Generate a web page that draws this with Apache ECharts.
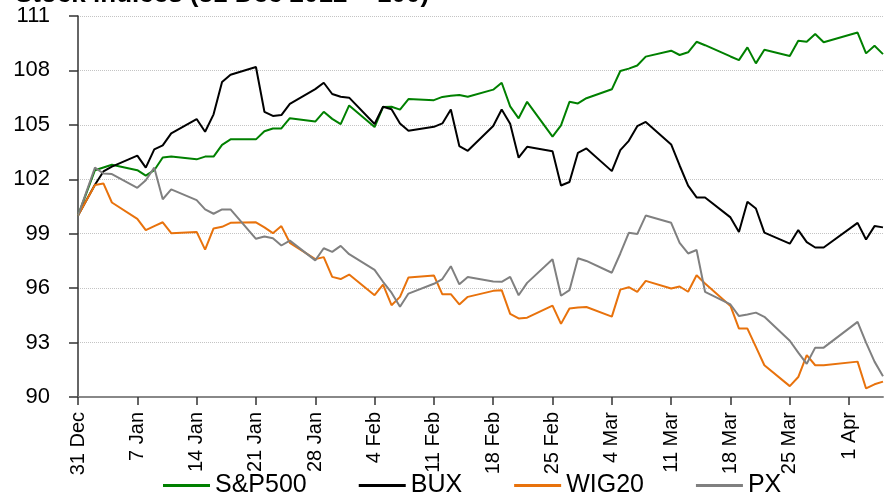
<!DOCTYPE html>
<html lang="en">
<head>
    <meta charset="UTF-8">
    <title>Stock indices</title>
    <style>
        html, body { margin: 0; padding: 0; background: #fff; }
        .box { width: 895px; height: 497px; }
    </style>
</head>
<body>
    <div class="box"></div>
    <script src="https://cdn.jsdelivr.net/npm/echarts@6/dist/echarts.min.js"></script>
    <script>
        // days since 31 Dec 2012 (trading days)
        var days = [0, 2, 3, 4, 7, 8, 9, 10, 11, 14, 15, 16, 17, 18, 21, 22, 23, 24, 25,
            28, 29, 30, 31, 32, 35, 36, 37, 38, 39, 42, 43, 44, 45, 46, 49, 50, 51, 52, 53,
            56, 57, 58, 59, 60, 63, 64, 65, 66, 67, 70, 71, 72, 73, 74, 77, 78, 79, 80, 81,
            84, 85, 86, 87, 88, 92, 93, 94, 95];
        var tickLabels = ['31 Dec', '7 Jan', '14 Jan', '21 Jan', '28 Jan', '4 Feb', '11 Feb',
            '18 Feb', '25 Feb', '4 Mar', '11 Mar', '18 Mar', '25 Mar', '1 Apr'];
        var seriesNames = ['S&P500', 'BUX', 'WIG20', 'PX'];

        var spx = [100, 102.5, 102.65, 102.8,
            102.5, 102.2, 102.5, 103.2, 103.25,
            103.1, 103.25, 103.25, 103.9, 104.2,
            104.2, 104.65, 104.8, 104.8, 105.37,
            105.18, 105.72, 105.33, 105.04, 106.07,
            104.88, 105.98, 106.0, 105.84, 106.42,
            106.36, 106.54, 106.6, 106.65, 106.55,
            106.94, 107.32, 106.02, 105.36, 106.27,
            104.35, 104.97, 106.27, 106.18, 106.47,
            106.96, 107.97, 108.1, 108.27, 108.76,
            109.09, 108.85, 109.0, 109.58, 109.39,
            108.77, 108.57, 109.27, 108.39, 109.14,
            108.8, 109.64, 109.58, 110.01, 109.55,
            110.09, 108.94, 109.36, 108.9];
        var bux = [100, 101.7, 102.43, 102.7,
            103.3, 102.64, 103.65, 103.87, 104.53,
            105.32, 104.62, 105.58, 107.36, 107.76,
            108.19, 105.72, 105.49, 105.54, 106.16,
            106.97, 107.32, 106.7, 106.55, 106.5,
            105.05, 106.0, 105.86, 105.08, 104.68,
            104.89, 105.08, 105.85, 103.83, 103.57,
            104.94, 105.85, 105.06, 103.19, 103.79,
            103.55, 101.66, 101.85, 103.46, 103.7,
            102.45, 103.61, 104.12, 104.93, 105.16,
            103.92, 102.76, 101.65, 101.0, 101.0,
            99.9, 99.1, 100.76, 100.39, 99.06,
            98.45, 99.2, 98.54, 98.24, 98.24,
            99.6, 98.68, 99.42, 99.35];
        var wig20 = [100, 101.68, 101.77, 100.72,
            99.82, 99.2, 99.42, 99.63, 99.03,
            99.1, 98.12, 99.29, 99.38, 99.6,
            99.63, 99.35, 99.03, 99.42, 98.5,
            97.6, 97.71, 96.62, 96.5, 96.75,
            95.61, 96.19, 95.06, 95.52, 96.59,
            96.7, 95.66, 95.67, 95.1, 95.52,
            95.85, 95.89, 94.58, 94.33, 94.37,
            95.04, 94.03, 94.88, 94.93, 94.96,
            94.43, 95.92, 96.05, 95.8, 96.4,
            95.98, 96.09, 95.8, 96.71, 96.26,
            95.02, 93.77, 93.77, 92.76, 91.75,
            90.6, 91.1, 92.31, 91.75, 91.75,
            91.95, 90.47, 90.7, 90.85];
        var px = [100, 102.64, 102.32, 102.29,
            101.53, 101.95, 102.64, 100.9, 101.44,
            100.85, 100.34, 100.1, 100.34, 100.34,
            98.72, 98.85, 98.75, 98.35, 98.62,
            97.53, 98.2, 98.0, 98.33, 97.87,
            97.01, 96.35, 95.75, 94.97, 95.7,
            96.24, 96.5, 97.21, 96.21, 96.62,
            96.37, 96.35, 96.62, 95.61, 96.29,
            97.59, 95.58, 95.89, 97.65, 97.5,
            96.85, 97.91, 99.05, 98.98, 100.0,
            99.6, 98.5, 97.91, 98.1, 95.8,
            95.1, 94.46, 94.55, 94.65, 94.42,
            93.1, 92.45, 91.83, 92.72, 92.72,
            94.14, 93.0, 91.95, 91.15];

        var colors = ['#008000', '#000000', '#E8720C', '#808080'];
        var font = "'Liberation Sans', Arial, sans-serif";

        var tickDays = tickLabels.map(function (t, i) { return i * 7; });

        function pairs(values) {
            return days.map(function (d, i) { return [d, values[i]]; });
        }

        var myChart = echarts.init(document.getElementsByClassName('box')[0], null, { renderer: 'canvas' });

        var allValues = [spx, bux, wig20, px];
        var series = allValues.map(function (vals, i) {
            return {
                name: seriesNames[i],
                type: 'line',
                data: pairs(vals),
                showSymbol: false,
                symbol: 'none',
                lineStyle: { width: 2, color: colors[i] },
                itemStyle: { color: colors[i] }
            };
        });

        var option = {
            animation: false,
            title: {
                text: 'Stock indices (31 Dec 2012 = 100)',
                left: 10,
                top: -23,
                textStyle: { fontFamily: font, fontSize: 26, fontWeight: 'bold', color: '#000' }
            },
            grid: { left: 78, right: 12, top: 16, bottom: 100, containLabel: false },
            legend: {
                bottom: -6,
                left: 158,
                icon: 'rect',
                itemWidth: 47,
                itemHeight: 3,
                itemGap: 52,
                textStyle: { fontFamily: font, fontSize: 25, color: '#000' },
                data: seriesNames
            },
            xAxis: {
                type: 'value',
                min: 0,
                max: 95,
                interval: 7,
                axisLine: { lineStyle: { color: '#888', width: 2 } },
                axisTick: {
                    show: true, length: 8, customValues: tickDays,
                    lineStyle: { color: '#333', width: 1.5 }
                },
                axisLabel: {
                    customValues: tickDays,
                    rotate: 90,
                    margin: 15,
                    fontFamily: font,
                    fontSize: 20,
                    color: '#000',
                    formatter: function (v) {
                        var i = Math.round(v / 7);
                        return tickLabels[i] || '';
                    }
                },
                splitLine: { show: false }
            },
            yAxis: {
                type: 'value',
                min: 90,
                max: 111,
                interval: 3,
                axisLine: { show: true, lineStyle: { color: '#333', width: 1.5 } },
                axisTick: { show: true, length: 9, lineStyle: { color: '#333', width: 1.5 } },
                axisLabel: { margin: 28, fontFamily: font, fontSize: 22, color: '#000' },
                splitLine: { show: true, lineStyle: { color: '#c4c4c4', width: 1, type: 'dotted' } }
            },
            series: series
        };
        myChart.setOption(option);
    </script>
</body>
</html>
